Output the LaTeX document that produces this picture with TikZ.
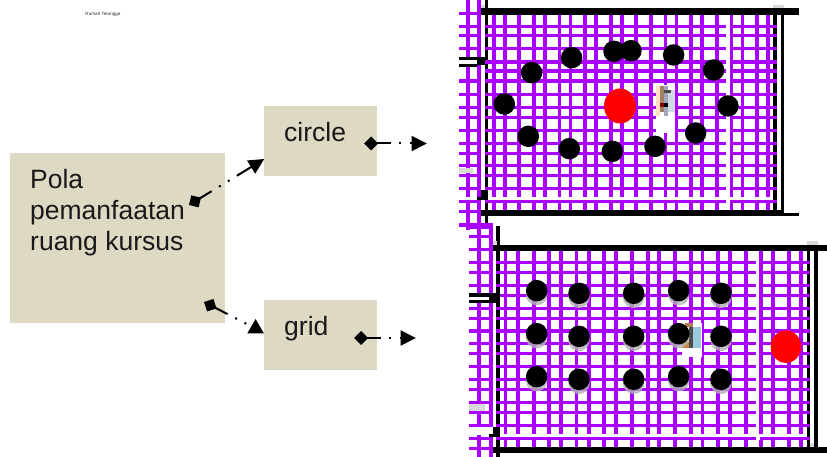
\documentclass[tikz,border=0pt]{standalone}
\usepackage{fontspec}
\setmainfont{Liberation Sans}
\usepackage{tikz}
\usetikzlibrary{arrows.meta, positioning, shapes.geometric}
\definecolor{boxtan}{HTML}{DDD9C3}
\definecolor{gridpurple}{HTML}{AA00FF}
\tikzset{
    box/.style={fill=boxtan, inner sep=0pt},
    boxtext/.style={inner sep=0pt, font=\fontsize{26.5}{31}\selectfont, text=black!90},
    link/.style={line width=2pt, dash pattern=on 14pt off 8.5pt on 2pt off 8.5pt on 2pt off 8.5pt on 40pt,
        {Diamond[length=14pt,width=14pt]}-{Triangle[length=15.5pt,width=15pt]}},
    linkup/.style={line width=2pt, dash pattern=on 14pt off 8.5pt on 2pt off 8.5pt on 2pt off 8.5pt on 40pt,
        {Diamond[length=14pt,width=14pt]}-},
    tipup/.style={regular polygon, regular polygon sides=3, fill=black, inner sep=0pt, minimum size=19pt},
    grid line/.style={gridpurple, line width=3.1pt},
    wall/.style={fill=black},
    seat/.style={circle, fill=black, inner sep=0pt, minimum size=21.5pt},
    speaker/.style={ellipse, fill=red, inner sep=0pt},
    speck/.style={fill=black!15},
}
\begin{document}
\begin{tikzpicture}[x=1pt, y=-1pt]
    \useasboundingbox (0,0) rectangle (827,457);

    % Title
    \node [inner sep=0pt, font=\fontsize{4.6}{5}\selectfont, text=black!80] (title) at (103,14.5) {Rumah Tetangga};

    % Boxes
    \node [box, minimum width=215pt, minimum height=170pt] (pola) at (117.5,238) {};
    \node [box, minimum width=113pt, minimum height=70pt, right=39pt of pola, yshift=97pt] (circlebox) {};
    \node [box, minimum width=113pt, minimum height=70pt, right=39pt of pola, yshift=-97pt] (gridbox) {};

    % Text
    \node [boxtext, anchor=base west, align=left] (polatext) at (30,250) {Pola\\pemanfaatan\\ruang kursus};
    \node [boxtext, anchor=base west] (circletext) at (284,142) {circle};
    \node [boxtext, anchor=base west] (gridtext) at (284,335) {grid};

    % Upper room
    \begin{scope}[shift={(450,0)}, x=.3333pt, y=-.3333pt]
        \fill [wall] (105,0) rectangle (113,680);
        \fill [wall] (969,30) rectangle (981,635);
        \fill [wall] (994,30) rectangle (1001,645);
        \foreach \x in {132,165,207,252,285,328,362,405,438,483,516,558,603,647,680,723,756,801,844,877,921,954} {
            \draw [grid line] (\x,36) -- (\x,590);
            \draw [grid line] (\x,610) -- (\x,630);
        }
        \foreach \y in {80,107,146,186,213,243,283,322,352,391,430,460,497,526,565,604} {
            \draw [grid line] (105,\y) -- (828,\y);
            \draw [grid line] (840,\y) -- (980,\y);
        }
        % corridor
        \foreach \x in {54,87} {
            \draw [grid line] (\x,0) -- (\x,172);
            \draw [grid line] (\x,193) -- (\x,590);
            \draw [grid line] (\x,600) -- (\x,690);
        }
        \foreach \y in {40,80,107,146,243,283,322,352,391,430,460,497,526,565,604,634,673} {
            \draw [grid line] (27,\y) -- (93,\y);
        }
        \draw [grid line] (60,682) -- (130,682);
        \fill [wall] (93,24) rectangle (1047,44);
        \fill [wall] (93,630) rectangle (1001,648);
        \fill [wall] (1001,640) rectangle (1047,648);
        \fill [wall] (27,172) rectangle (105,180);
        \fill [wall] (27,193) rectangle (81,200);
        \fill [wall] (81,172) rectangle (105,195);
        \fill [wall] (93,570) rectangle (113,600);
        \fill [wall] (81,592) rectangle (93,600);
        \fill [wall] (138,678) rectangle (150,690);
        \fill [speck] (93,15) rectangle (105,24);
        \fill [speck] (969,15) rectangle (1001,24);
        \fill [speck] (27,505) rectangle (70,520);
        % person
        \fill [white] (618,255) rectangle (675,400);
        \fill [orange!25] (618,258) rectangle (630,348);
        \fill [brown!50!gray] (630,258) rectangle (642,336);
        \fill [blue!20!gray!60] (642,258) rectangle (654,348);
        \fill [cyan!30!gray!35] (654,270) rectangle (675,336);
        \fill [black!70] (642,270) rectangle (662,278);
        \fill [red!50!black] (630,310) rectangle (642,320);
        \fill [black] (642,310) rectangle (654,320);
        % seats
        \foreach \x/\y in {365/173,245/218,163/312,235/409,358/446,487/454,615/439,737/399,834/318,791/210,671/165,543/152,492/154} {
            \node [seat] at (\x,\y) {};
        }
        \node [speaker, minimum width=32pt, minimum height=35pt] (speakerone) at (510,318) {};
    \end{scope}

    % Lower room
    \begin{scope}[shift={(450,225)}, x=.3333pt, y=-.3333pt]
        \fill [wall] (138,3) rectangle (150,696);
        \fill [wall] (1071,60) rectangle (1080,672);
        \fill [wall] (1092,78) rectangle (1104,672);
        \foreach \x in {167,204,252,297,333,380,417,462,498,546,594,627,675,723,757,804,840,888,933,969,1017,1053} {
            \draw [grid line] (\x,70) -- (\x,628);
            \draw [grid line] (\x,646) -- (\x,666);
        }
        \foreach \y in {112,142,181,211,250,280,318,356,385,424,463,493,533,562,601,640} {
            \draw [grid line] (138,\y) -- (918,\y);
            \draw [grid line] (930,\y) -- (1080,\y);
        }
        % corridor
        \foreach \x in {87,123} {
            \draw [grid line] (\x,0) -- (\x,204);
            \draw [grid line] (\x,225) -- (\x,600);
            \draw [grid line] (\x,630) -- (\x,696);
        }
        \foreach \y in {34,73,112,142,181,250,280,318,356,385,424,463,493,533,562,601,640,670} {
            \draw [grid line] (57,\y) -- (130,\y);
        }
        \draw [grid line] (27,0) -- (130,0);
        \fill [wall] (130,60) rectangle (1131,78);
        \fill [wall] (130,666) rectangle (1131,684);
        \fill [wall] (57,204) rectangle (138,216);
        \fill [wall] (57,225) rectangle (117,233);
        \fill [wall] (117,204) rectangle (150,233);
        \fill [wall] (130,605) rectangle (150,635);
        \fill [wall] (117,627) rectangle (130,635);
        \fill [speck] (128,48) rectangle (140,60);
        \fill [speck] (1071,48) rectangle (1104,60);
        \fill [speck] (57,537) rectangle (104,558);
        \fill [speck] (1080,654) rectangle (1092,666);
        % person
        \fill [white] (695,295) rectangle (755,395);
        \fill [orange!60!gray] (695,350) rectangle (717,370);
        \fill [brown!70!gray] (705,295) rectangle (729,305);
        \fill [black!70] (717,305) rectangle (741,370);
        \fill [cyan!50!gray!60] (729,305) rectangle (752,370);
        % seats
        \foreach \x in {260,686} {
            \foreach \y in {197,326,455} {
                \node [seat, fill=black!30, opacity=.8] at (\x,\y+12) {};
                \node [seat] at (\x,\y) {};
            }
        }
        \foreach \x in {387,551,813} {
            \foreach \y in {205,334,463} {
                \node [seat, fill=black!30, opacity=.8] at (\x,\y+12) {};
                \node [seat] at (\x,\y) {};
            }
        }
        \node [speaker, minimum width=30.5pt, minimum height=32.5pt] (speakertwo) at (1008,365) {};
    \end{scope}

    % Connections
    \coordinate (polaup) at (189,205);
    \coordinate (polalow) at (204,302);
    \coordinate (circlein) at (264.3,159);
    \coordinate (circleout) at (364,143.5);
    \coordinate (circleroom) at (427,143.5);
    \coordinate (gridout) at (354,338);
    \coordinate (gridroom) at (416,338);
    \node [tipup] (gridin) at (255.6,328.5) {};

    \draw [link] (polaup) -- (circlein);
    \draw [linkup] (polalow) -- (gridin);
    \draw [link] (circleout) -- (circleroom);
    \draw [link] (gridout) -- (gridroom);

\end{tikzpicture}
\end{document}
